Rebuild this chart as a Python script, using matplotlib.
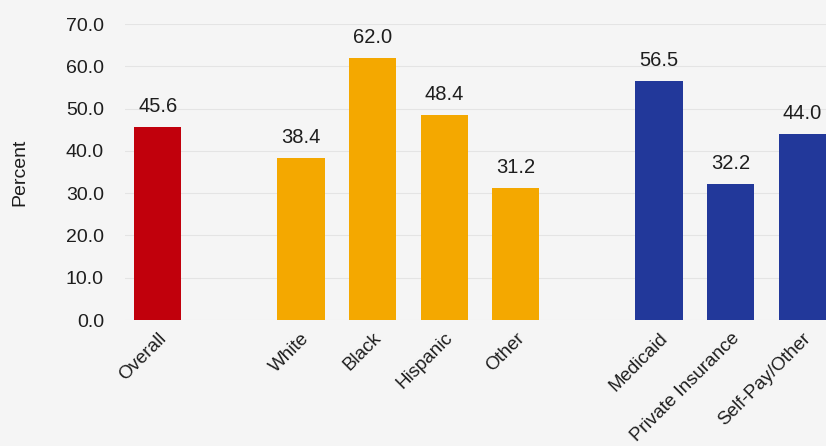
import numpy as np
import matplotlib.pyplot as plt

plt.rcParams['font.family'] = ['Liberation Sans', 'DejaVu Sans']

# slot positions leave a gap between the groups
positions = [0, 2, 3, 4, 5, 7, 8, 9]
categories = ['Overall', 'White', 'Black', 'Hispanic', 'Other',
              'Medicaid', 'Private Insurance', 'Self-Pay/Other']
values = [45.6, 38.4, 62.0, 48.4, 31.2, 56.5, 32.2, 44.0]
colors = ['#c1000c', '#f4a800', '#f4a800', '#f4a800', '#f4a800',
          '#22389a', '#22389a', '#22389a']

bg = '#f5f5f5'
txt = '#1e1e1e'
fig = plt.figure(figsize=(8.26, 4.46), dpi=100, facecolor=bg)
ax = fig.add_axes([0.151, 0.2825, 0.849, 0.6635], facecolor=bg)

bars = ax.bar(positions, values, width=0.66, color=colors, zorder=2)

for x, v in zip(positions, values):
    ax.annotate('%.1f' % v, (x, v), xytext=(0, 8), textcoords='offset points',
                ha='center', va='bottom', fontsize=14.5, color=txt)

ax.set_ylim(0, 70)
ax.set_xlim(-0.46, 9.33)
ax.set_yticks(np.arange(0, 71, 10))
ax.set_yticklabels(['%.1f' % t for t in np.arange(0, 71, 10)], fontsize=14, color=txt)
ax.set_xticks(positions)
ax.set_xticklabels(categories, rotation=45, ha='right', va='top',
                   rotation_mode='anchor', fontsize=13.5, color=txt)
ax.tick_params(axis='both', length=0)
ax.tick_params(axis='y', pad=15)
ax.tick_params(axis='x', pad=7)
ax.grid(axis='y', color='#e4e4e4', linewidth=0.8, zorder=0)
for s in ax.spines.values():
    s.set_visible(False)

ax.set_ylabel('Percent', fontsize=14, color=txt, labelpad=27)

fig.savefig('out.png', dpi=100, facecolor=bg)
